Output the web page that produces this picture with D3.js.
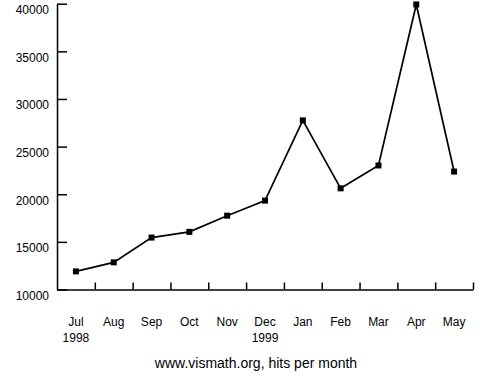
<!DOCTYPE html>
<html>
<head>
<meta charset="utf-8">
<script src="https://cdn.jsdelivr.net/npm/d3@7"></script>
<style>
  body { margin: 0; background: #fff; }
  svg text { font-family: "Liberation Sans", Arial, sans-serif; fill: #000; }
  .axis path, .axis line { stroke: #000; stroke-width: 1.5; }
</style>
</head>
<body>
<svg width="480" height="377"></svg>
<script>
const months = ['Jul', 'Aug', 'Sep', 'Oct', 'Nov', 'Dec', 'Jan', 'Feb', 'Mar', 'Apr', 'May']
const years = {'Jul': '1998', 'Dec': '1999'}
const hits = [11900, 12850, 15450, 16050, 17750, 19330, 27750, 20620, 23020, 39920, 22380]
const yTicks = [10000, 15000, 20000, 25000, 30000, 35000, 40000]
const title = 'www.vismath.org, hits per month'

const svg = d3.select('svg')

const margin = { left: 57, right: 473, top: 3.7, bottom: 289.5 }

const dados = months.map((m, i) => ({ name: m, hits: hits[i] }))

const xScale = d3.scaleBand()
  .range([margin.left, margin.right])
  .domain(months)

const xEdges = d3.scaleLinear()
  .domain([0, months.length])
  .range([margin.left, margin.right])

const yScale = d3.scaleLinear()
  .domain([10000, 40000])
  .range([margin.bottom, margin.top])

/*eixo y, marcas para dentro*/
const yAxis = svg.append('g')
  .attr('class', 'axis')
  .attr('transform', `translate(${margin.left}, 0)`)
  .call(d3.axisLeft(yScale)
    .tickValues(yTicks)
    .tickSize(-10)
    .tickSizeOuter(0)
    .tickPadding(8)
    .tickFormat(d3.format('d')))
yAxis.selectAll('text')
  .attr('dy', '10')
  .style('font-size', '12px')

/*eixo x, marcas nas bordas*/
svg.append('g')
  .attr('class', 'axis')
  .attr('transform', `translate(0, ${margin.bottom})`)
  .call(d3.axisBottom(xEdges)
    .tickValues(d3.range(1, months.length + 1))
    .tickSize(-7)
    .tickSizeOuter(0)
    .tickFormat(''))

/*nomes dos meses*/
const xLabels = svg.append('g')
  .attr('transform', `translate(0, ${margin.bottom})`)
  .call(d3.axisBottom(xScale).tickSize(0).tickPadding(0))
xLabels.select('.domain').remove()
xLabels.selectAll('text')
  .attr('y', 36)
  .attr('dy', 0)
  .style('font-size', '12px')
xLabels.selectAll('.tick')
  .filter((d) => years[d])
  .append('text')
  .attr('y', 52)
  .attr('text-anchor', 'middle')
  .style('font-size', '12px')
  .text((d) => years[d])

/*linha*/
const line = d3.line()
  .x((d) => xScale(d.name) + xScale.bandwidth() / 2)
  .y((d) => yScale(d.hits))

svg.append('path')
  .datum(dados)
  .attr('d', line)
  .attr('fill', 'none')
  .attr('stroke', '#000')
  .attr('stroke-width', 1.7)

svg.selectAll('.marker')
  .data(dados)
  .enter()
  .append('rect')
  .attr('class', 'marker')
  .attr('x', (d) => xScale(d.name) + xScale.bandwidth() / 2 - 3)
  .attr('y', (d) => yScale(d.hits) - 3)
  .attr('width', 6)
  .attr('height', 6)
  .attr('fill', '#000')

svg.append('text')
  .attr('x', 256)
  .attr('y', 368)
  .attr('text-anchor', 'middle')
  .style('font-size', '14px')
  .text(title)
</script>
</body>
</html>
